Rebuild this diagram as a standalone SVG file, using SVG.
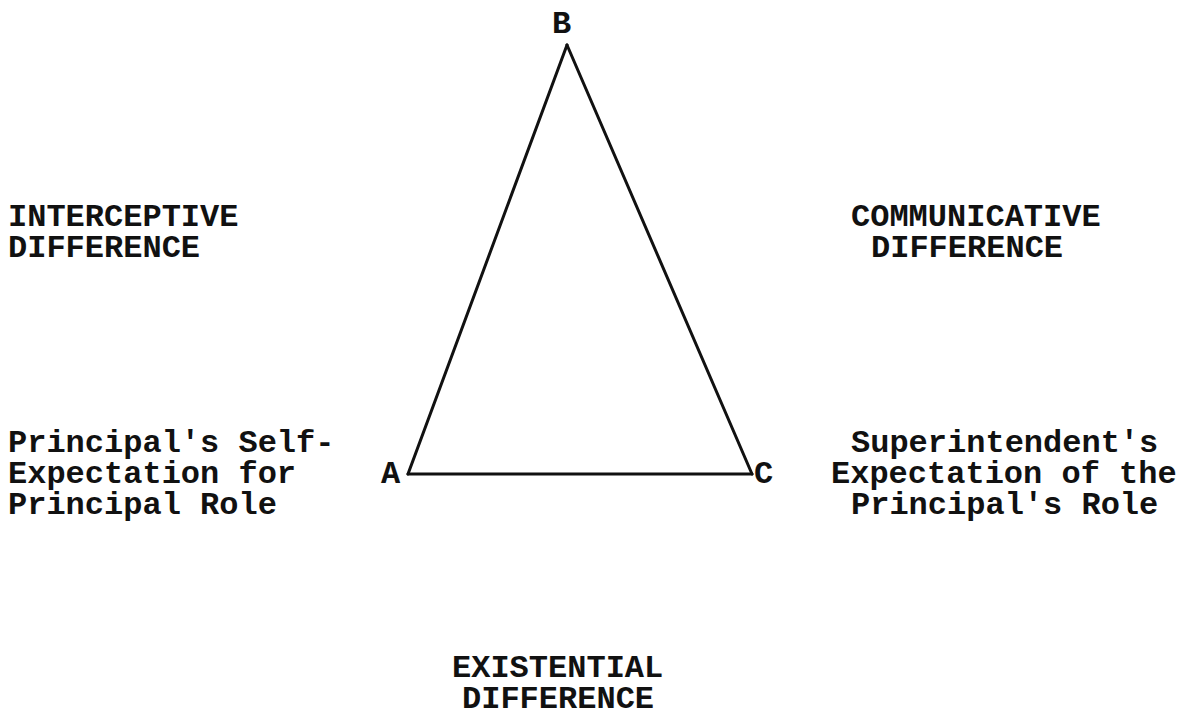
<svg xmlns="http://www.w3.org/2000/svg" width="1202" height="716" viewBox="0 0 1202 716">
<style>
  text { font-family: "Liberation Mono", "Courier New", monospace; font-weight: bold; font-size: 32px; fill: #111; }
  .edge { stroke: #111; stroke-width: 3; fill: none; stroke-linecap: round; }
</style>
<rect width="1202" height="716" fill="#fff"/>
<g id="connectors">
  <line class="edge" x1="408" y1="474" x2="567" y2="45"/>
  <line class="edge" x1="567" y1="45" x2="752" y2="474"/>
  <line class="edge" x1="408" y1="474" x2="752" y2="474"/>
</g>
<g id="node-B"><text x="552" y="33">B</text></g>
<g id="node-A"><text x="381" y="483">A</text></g>
<g id="node-C"><text x="754" y="483">C</text></g>
<g id="label-interceptive">
  <text x="8" y="226">INTERCEPTIVE</text>
  <text x="8" y="257">DIFFERENCE</text>
</g>
<g id="label-communicative">
  <text x="851" y="226">COMMUNICATIVE</text>
  <text x="871" y="257">DIFFERENCE</text>
</g>
<g id="label-principal">
  <text x="8" y="452">Principal's Self-</text>
  <text x="8" y="483">Expectation for</text>
  <text x="8" y="514">Principal Role</text>
</g>
<g id="label-superintendent">
  <text x="851" y="452">Superintendent's</text>
  <text x="831" y="483">Expectation of the</text>
  <text x="851" y="514">Principal's Role</text>
</g>
<g id="label-existential">
  <text x="452" y="677">EXISTENTIAL</text>
  <text x="462" y="708">DIFFERENCE</text>
</g>
</svg>
